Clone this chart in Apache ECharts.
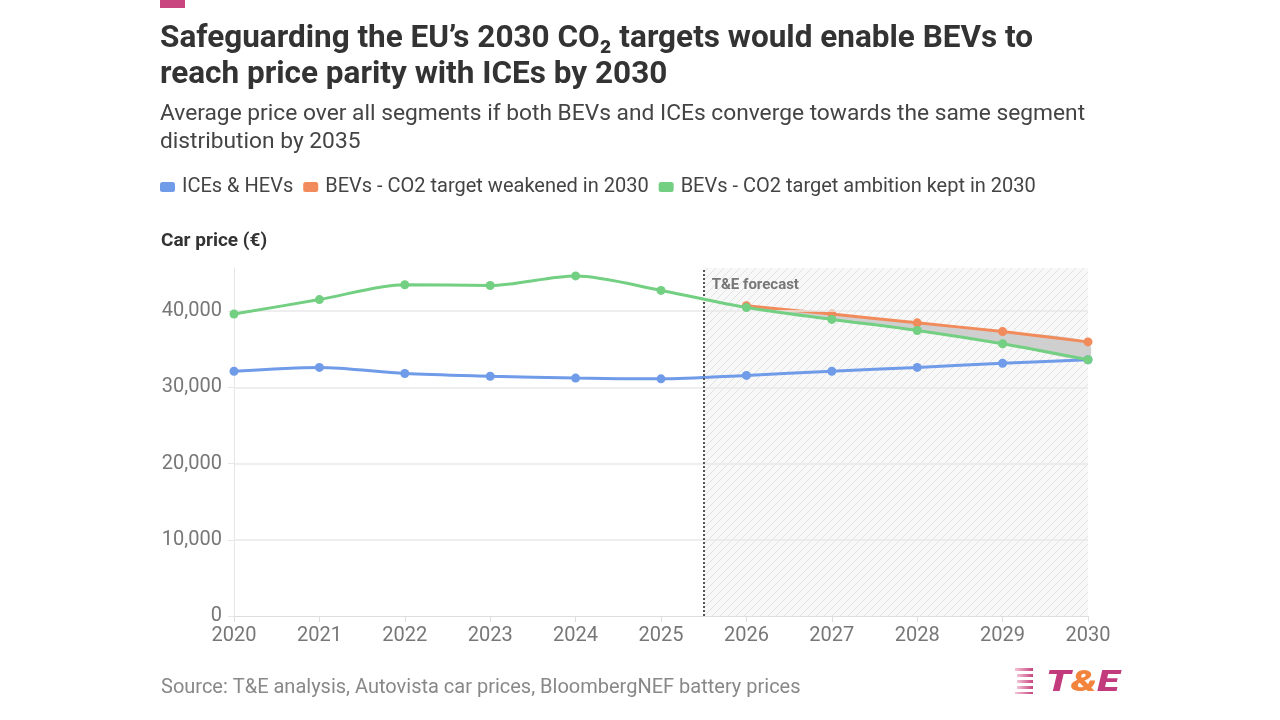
<!DOCTYPE html>
<html><head><meta charset="utf-8">
<script src="https://cdn.jsdelivr.net/npm/echarts@6/dist/echarts.min.js"></script>
<style>html,body{margin:0;padding:0;background:#fff}#c{width:1280px;height:720px}</style>
</head><body><div id="c"></div>
<script>
const years = [2020,2021,2022,2023,2024,2025,2026,2027,2028,2029,2030];
const iceHev = [32100,32600,31800,31450,31200,31100,31550,32100,32600,33150,33600];
const bevWeakened = [null,null,null,null,null,null,40700,39600,38450,37300,35950];
const bevKept = [39600,41500,43450,43350,44600,42700,40450,38900,37450,35700,33600];
const yTicks = [10000,20000,30000,40000];
const forecastStart = 2025.5;

const pair = arr => years.map((y,i)=> [y, arr[i] == null ? '-' : arr[i]]);
const gapIdx = years.map((y,i)=> i).filter(i => bevWeakened[i] != null);

// hatch pattern
const pc = document.createElement('canvas');
pc.width = 8; pc.height = 8;
const g = pc.getContext('2d');
g.fillStyle = '#f8f8f8'; g.fillRect(0,0,8,8);
g.strokeStyle = '#e2e2e2'; g.lineWidth = 1;
g.beginPath(); g.moveTo(0,8); g.lineTo(8,0); g.moveTo(-4,4); g.lineTo(4,-4); g.moveTo(4,12); g.lineTo(12,4); g.stroke();

const BLUE='#6f9be8', ORANGE='#f28b5b', GREEN='#73cf82';
const grad = {type:'linear',x:0,y:0,x2:1,y2:0,colorStops:[{offset:0,color:'#f3c3d6'},{offset:1,color:'#c8457f'}]};
const chart = echarts.init(document.getElementById('c'));
chart.setOption({
  animation:false,
  textStyle:{fontFamily:'Roboto'},
  title:[
    {text:'Safeguarding the EU’s 2030 CO₂ targets would enable BEVs to\nreach price parity with ICEs by 2030', left:160, top:21, padding:0,
     textStyle:{fontSize:31.5, fontWeight:'bold', color:'#333', lineHeight:36, fontFamily:'Roboto'}},
    {text:'Average price over all segments if both BEVs and ICEs converge towards the same segment\ndistribution by 2035', left:160, top:100, padding:0,
     textStyle:{fontSize:22.75, fontWeight:'normal', color:'#444', lineHeight:28, fontFamily:'Roboto'}},
    {text:'Car price (€)', left:161, top:232, padding:0, textStyle:{fontSize:19, fontWeight:'bold', color:'#333', fontFamily:'Roboto'}},
    {text:'Source: T&E analysis, Autovista car prices, BloombergNEF battery prices', left:161, top:678, padding:0,
     textStyle:{fontSize:20, fontWeight:'normal', color:'#888', fontFamily:'Roboto'}}
  ],
  legend:{left:155, top:172, icon:'roundRect', itemWidth:15, itemHeight:10, itemGap:10,
    textStyle:{fontSize:20, color:'#444', fontFamily:'Roboto', padding:[0,0,0,2]},
    data:['ICEs & HEVs','BEVs - CO2 target weakened in 2030','BEVs - CO2 target ambition kept in 2030']},
  grid:{left:234, right:192, top:268, bottom:104},
  xAxis:{type:'value', min:2020, max:2030, interval:1,
    axisLine:{lineStyle:{color:'#ddd'}}, axisTick:{show:true, length:6, lineStyle:{color:'#ddd'}},
    axisLabel:{fontSize:20, color:'#777', margin:10, formatter:v=>String(v)}, splitLine:{show:false}},
  yAxis:{type:'value', min:0, max:45640, interval:10000,
    axisLine:{show:true, lineStyle:{color:'#e6e6e6'}}, axisTick:{show:true, length:6, lineStyle:{color:'#e6e6e6'}},
    axisLabel:{fontSize:20, color:'#777', margin:12, showMaxLabel:false, formatter:v=>v.toLocaleString('en-US')},
    splitLine:{show:false}},
  graphic:[
    {type:'rect', shape:{x:160,y:0,width:25,height:8}, style:{fill:'#c8457f'}},
    {type:'rect', shape:{x:1015,y:668,width:18,height:3}, style:{fill:grad}},
    {type:'rect', shape:{x:1017,y:674,width:16,height:3}, style:{fill:grad}},
    {type:'rect', shape:{x:1017,y:680,width:16,height:3}, style:{fill:grad}},
    {type:'rect', shape:{x:1017,y:686,width:16,height:3}, style:{fill:grad}},
    {type:'rect', shape:{x:1015,y:692,width:18,height:2}, style:{fill:grad}},
    {type:'text', x:1046, y:668, scaleX:1.35, style:{text:'{a|T}{b|&}{a|E}', rich:{
      a:{fontSize:30, fontWeight:900, fontStyle:'italic', fill:'#c23b7c', fontFamily:'Roboto'},
      b:{fontSize:30, fontWeight:900, fontStyle:'italic', fill:'#f2843e', fontFamily:'Roboto'}}}}
  ],
  series:[
    {name:'forecast', type:'line', data:pair(iceHev), symbol:'none', lineStyle:{opacity:0}, silent:true, z:1,
     markArea:{silent:true, itemStyle:{color:{image:pc, repeat:'repeat'}},
       label:{show:true, position:'insideTopLeft', distance:8, formatter:'T&E forecast', fontSize:15, fontWeight:'bold', color:'#777', fontFamily:'Roboto', padding:[2,0,0,0]},
       data:[[{xAxis:forecastStart},{xAxis:2030}]]},
     markLine:{silent:true, symbol:'none', label:{show:false},
       lineStyle:{color:'#e8e8e8', type:'solid', width:1.5},
       data: yTicks.map(v=>({yAxis:v}))}},
    {name:'gap', type:'custom', silent:true, z:2,
     data:[[0]],
     renderItem:function(params, api){
       const top = gapIdx.map(i => api.coord([years[i], bevWeakened[i]]));
       const bot = gapIdx.slice().reverse().map(i => api.coord([years[i], bevKept[i]]));
       return {type:'polygon', shape:{points: top.concat(bot), smooth:0.3}, style:{fill:'#cfcfcf'}};
     },
     markLine:{silent:true, symbol:'none', label:{show:false},
       lineStyle:{color:'#555', type:'dotted', width:2}, data:[{xAxis:forecastStart}]}},
    {name:'ICEs & HEVs', type:'line', data:pair(iceHev), smooth:0.3, symbol:'circle', symbolSize:9,
     color:BLUE, lineStyle:{width:3, color:BLUE}, itemStyle:{color:BLUE}, z:3},
    {name:'BEVs - CO2 target weakened in 2030', type:'line', data:pair(bevWeakened), smooth:0.3, symbol:'circle', symbolSize:9,
     color:ORANGE, lineStyle:{width:3, color:ORANGE}, itemStyle:{color:ORANGE}, z:4},
    {name:'BEVs - CO2 target ambition kept in 2030', type:'line', data:pair(bevKept), smooth:0.3, symbol:'circle', symbolSize:9,
     color:GREEN, lineStyle:{width:3, color:GREEN}, itemStyle:{color:GREEN}, z:5}
  ]
});
</script></body></html>
